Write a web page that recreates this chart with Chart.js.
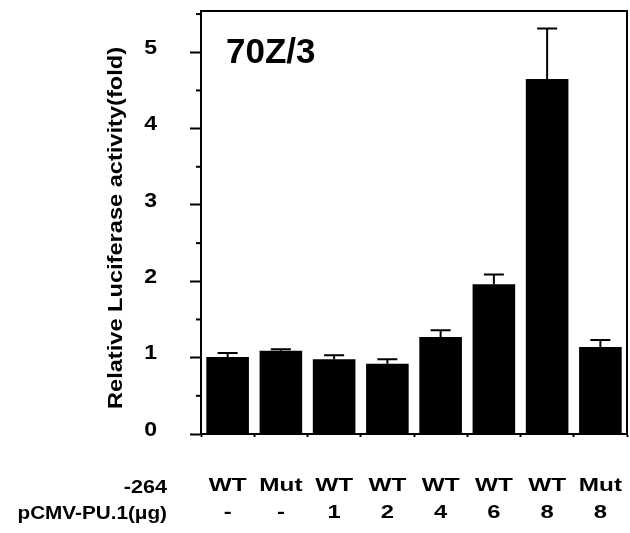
<!DOCTYPE html>
<html>
<head>
    <title>70Z/3 luciferase</title>
    <script src="https://cdn.jsdelivr.net/npm/chart.js"></script>
    <style>
        body { margin: 0; background: #fff; }
    </style>
</head>
<body>
    <canvas id="myChart" width="630" height="533"></canvas>
    <script>
        const categories = ['WT', 'Mut', 'WT', 'WT', 'WT', 'WT', 'WT', 'Mut'];
        const doses = ['-', '-', '1', '2', '4', '6', '8', '8'];
        const means = [1.01, 1.09, 0.98, 0.92, 1.27, 1.96, 4.65, 1.14];
        const errors = [0.05, 0.02, 0.05, 0.06, 0.09, 0.13, 0.66, 0.09];
        const yTickLabels = [0, 1, 2, 3, 4, 5];
        const rowHeaders = ['-264', 'pCMV-PU.1(\u03bcg)'];
        const panelTitle = '70Z/3';
        const yTitle = 'Relative Luciferase activity(fold)';

        const FONT = '"Liberation Sans", Arial, sans-serif';

        function stretchText(ctx, text, x, y, font, sx, align) {
            ctx.save();
            ctx.translate(x, y);
            ctx.scale(sx, 1);
            ctx.font = font;
            ctx.textAlign = align;
            ctx.textBaseline = 'middle';
            ctx.fillText(text, 0, 0);
            ctx.restore();
        }

        const extras = {
            id: 'extras',
            afterDatasetsDraw(chart) {
                const ctx = chart.ctx;
                const x = chart.scales.x, y = chart.scales.y;
                ctx.save();
                ctx.strokeStyle = '#000';
                ctx.lineWidth = 2;
                // error bars (upper only)
                means.forEach((m, i) => {
                    const px = x.getPixelForValue(i);
                    const y0 = y.getPixelForValue(m);
                    const y1 = y.getPixelForValue(m + errors[i]);
                    ctx.beginPath();
                    ctx.moveTo(px, y0);
                    ctx.lineTo(px, y1);
                    ctx.moveTo(px - 10, y1);
                    ctx.lineTo(px + 10, y1);
                    ctx.stroke();
                });
                ctx.restore();
            },
            afterDraw(chart) {
                const ctx = chart.ctx;
                const a = chart.chartArea;
                const x = chart.scales.x, y = chart.scales.y;
                ctx.save();
                ctx.strokeStyle = '#000';
                ctx.fillStyle = '#000';
                ctx.lineWidth = 2;

                // top and right frame
                ctx.beginPath();
                ctx.moveTo(a.left, a.top);
                ctx.lineTo(a.right, a.top);
                ctx.lineTo(a.right, a.bottom);
                ctx.stroke();

                // minor ticks on y
                for (let v = 0.5; v < y.max; v += 1) {
                    const py = y.getPixelForValue(v);
                    ctx.beginPath();
                    ctx.moveTo(a.left - 5, py);
                    ctx.lineTo(a.left, py);
                    ctx.stroke();
                }

                // y tick labels, sitting a little above their ticks as in the print
                yTickLabels.forEach(v => {
                    stretchText(ctx, String(v), 157, y.getPixelForValue(v) - 4, 'bold 21px ' + FONT, 1.1, 'right');
                });

                // panel title
                ctx.font = 'bold 35px ' + FONT;
                ctx.textAlign = 'left';
                ctx.textBaseline = 'alphabetic';
                ctx.fillText(panelTitle, 226, 63);

                // y axis title
                ctx.save();
                ctx.translate(116, 228);
                ctx.rotate(-Math.PI / 2);
                stretchText(ctx, yTitle, 0, 0, 'bold 20px ' + FONT, 1.18, 'center');
                ctx.restore();

                // category rows under the axis
                categories.forEach((c, i) => {
                    const px = x.getPixelForValue(i);
                    stretchText(ctx, c, px, 486, 'bold 19px ' + FONT, 1.28, 'center');
                    stretchText(ctx, doses[i], px, 513, 'bold 19px ' + FONT, 1.25, 'center');
                });
                stretchText(ctx, rowHeaders[0], 167, 488, 'bold 18px ' + FONT, 1.2, 'right');
                stretchText(ctx, rowHeaders[1], 167, 514, 'bold 18px ' + FONT, 1.15, 'right');
                ctx.restore();
            }
        };

        const ctx = document.getElementById('myChart').getContext('2d');
        const myChart = new Chart(ctx, {
            type: 'bar',
            data: {
                labels: categories.map((c, i) => i),
                datasets: [{
                    data: means,
                    backgroundColor: '#000',
                    borderWidth: 0,
                    barPercentage: 0.8,
                    categoryPercentage: 1.0
                }]
            },
            options: {
                responsive: false,
                animation: false,
                layout: { padding: { top: 11, right: 3, left: 0, bottom: 0 } },
                plugins: {
                    legend: { display: false },
                    tooltip: { enabled: false }
                },
                scales: {
                    x: {
                        grid: { drawOnChartArea: false, tickLength: 3, color: '#000', tickWidth: 2, offset: true },
                        border: { color: '#000', width: 2 },
                        ticks: { display: false },
                        afterFit: s => { s.height = 99; }
                    },
                    y: {
                        min: 0,
                        max: 5.54,
                        ticks: { stepSize: 0.5, autoSkip: false, display: false, padding: 0 },
                        grid: {
                            drawOnChartArea: false,
                            tickLength: 11,
                            tickWidth: 2,
                            tickColor: c => Number.isInteger(c.tick.value) ? '#000' : 'rgba(0,0,0,0)'
                        },
                        border: { color: '#000', width: 2 },
                        afterFit: s => { s.width = 201; }
                    }
                }
            },
            plugins: [extras]
        });
    </script>
</body>
</html>
